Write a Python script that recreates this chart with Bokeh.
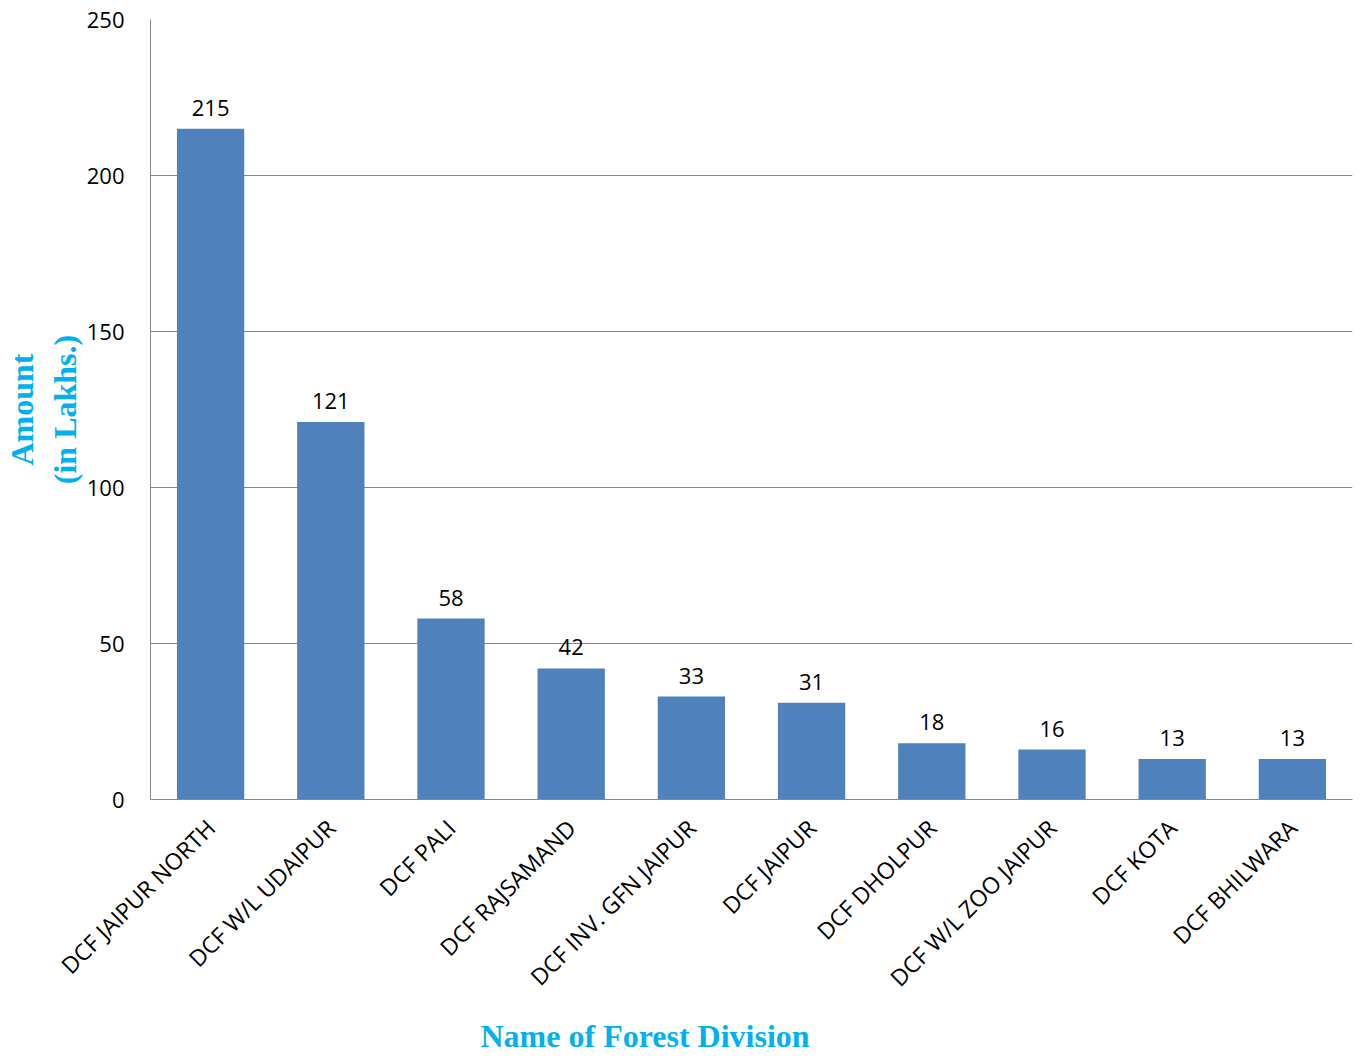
import math
from bokeh.plotting import figure
from bokeh.models import ColumnDataSource, FactorRange, Range1d, SingleIntervalTicker, LabelSet, Title
from bokeh.core.properties import value
from bokeh.embed import file_html
from bokeh.resources import INLINE

divisions = ["DCF JAIPUR NORTH", "DCF W/L UDAIPUR", "DCF PALI", "DCF RAJSAMAND",
             "DCF INV. GFN JAIPUR", "DCF JAIPUR", "DCF DHOLPUR", "DCF W/L ZOO JAIPUR",
             "DCF KOTA", "DCF BHILWARA"]
amounts = [215, 121, 58, 42, 33, 31, 18, 16, 13, 13]

src = ColumnDataSource(dict(x=divisions, y=amounts, lbl=[str(a) for a in amounts]))

p = figure(width=1362, height=1062, x_range=FactorRange(*divisions, range_padding=0),
           y_range=Range1d(0, 250), output_backend="svg", toolbar_location=None,
           min_border_left=150, min_border_right=10, min_border_top=19, min_border_bottom=263)
p.outline_line_color = None
p.vbar(x="x", top="y", width=0.56, source=src, color="#4F81BD", line_color=None)

labels = LabelSet(x="x", y="y", text="lbl", source=src, text_align="center",
                  text_baseline="bottom", y_offset=13, text_font=value("Open Sans"),
                  text_font_size="22px", text_color="black")
p.add_layout(labels)

p.yaxis.ticker = SingleIntervalTicker(interval=50)
p.xgrid.grid_line_color = None
p.ygrid.grid_line_color = "#878787"
p.ygrid.grid_line_width = 1

for ax in (p.xaxis[0], p.yaxis[0]):
    ax.axis_line_color = "#878787"
    ax.major_tick_line_color = None
    ax.minor_tick_line_color = None
    ax.major_label_text_font = "Open Sans"
    ax.major_label_text_font_size = "22px"
    ax.major_label_text_color = "black"
    ax.axis_label_text_font = "Liberation Serif"
    ax.axis_label_text_font_style = "bold"
    ax.axis_label_text_font_size = "32px"
    ax.axis_label_text_color = "#00B0F0"

p.xaxis.major_label_text_font_size = "23px"
p.yaxis.major_label_standoff = 20
p.xaxis.major_label_orientation = math.pi / 4
p.xaxis.major_label_standoff = 18

p.yaxis.axis_label = "Amount\n(in Lakhs.)"
p.yaxis.axis_label_standoff = 1

xtitle = Title(text="Name of Forest Division", align="left", offset=330, standoff=17,
               vertical_align="bottom",
               text_font="Liberation Serif", text_font_style="bold",
               text_font_size="32px", text_color="#00B0F0")
p.add_layout(xtitle, "below")

open("out.html", "w").write(file_html(p, INLINE))
